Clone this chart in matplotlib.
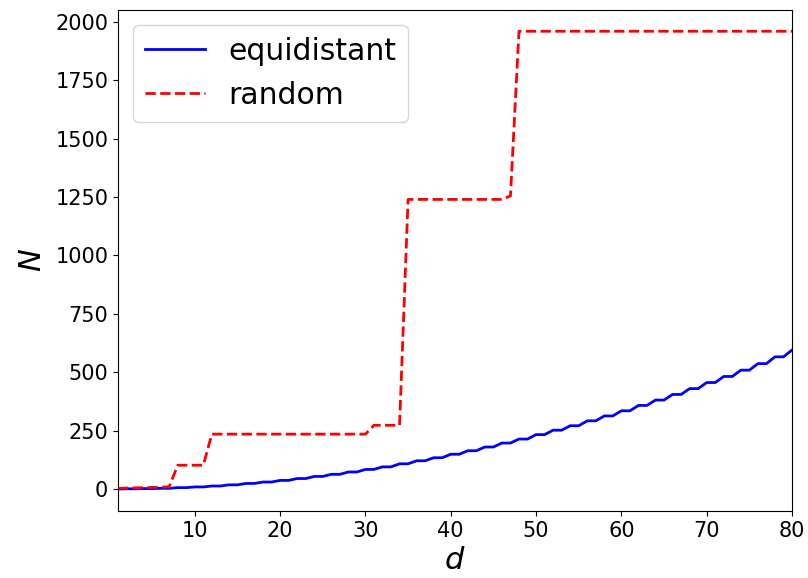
import matplotlib
matplotlib.use("Agg")
import matplotlib.pyplot as plt

d = list(range(1, 81))
equidistant = [0, 1, 1, 2, 2, 3, 3, 6, 6, 9, 9, 13, 13, 18, 18, 24, 24, 30, 30, 37,
               37, 45, 45, 54, 54, 63, 63, 73, 73, 84, 84, 95, 95, 108, 108, 121, 121, 134, 134, 149,
               149, 164, 164, 180, 180, 197, 197, 214, 214, 233, 233, 252, 252, 271, 271, 292, 292, 313, 313, 335,
               335, 358, 358, 381, 381, 405, 405, 430, 430, 456, 456, 482, 482, 509, 509, 537, 537, 566, 566, 595]
random_ = [3, 4, 5, 6, 7, 8, 10, 102, 102, 102, 102, 235, 235, 235, 235, 235, 235, 235, 235, 235,
           235, 235, 235, 235, 235, 235, 235, 235, 235, 235, 273, 273, 273, 273, 1240, 1240, 1240, 1240, 1240, 1240,
           1240, 1240, 1240, 1240, 1240, 1240, 1255, 1960, 1960, 1960, 1960, 1960, 1960, 1960, 1960, 1960, 1960, 1960, 1960, 1960,
           1960, 1960, 1960, 1960, 1960, 1960, 1960, 1960, 1960, 1960, 1960, 1960, 1960, 1960, 1960, 1960, 1960, 1960, 1960, 1960]

fig = plt.figure(figsize=(8.08, 5.78), dpi=100)
ax = fig.add_axes([118/808, 1 - 511/578, (792 - 118)/808, (511 - 10)/578])
ax.plot(d, equidistant, color="blue", linestyle="-", linewidth=2, label="equidistant")
ax.plot(d, random_, color="red", linestyle="--", linewidth=2, label="random")
ax.set_xlim(1, 80)
ax.set_ylim(-94, 2051)
ax.set_yticks([0, 250, 500, 750, 1000, 1250, 1500, 1750, 2000])
ax.set_xticks([10, 20, 30, 40, 50, 60, 70, 80])
ax.tick_params(labelsize=15)
ax.set_xlabel("$d$", fontsize=22)
ax.set_ylabel("$N$", fontsize=22, labelpad=6)
ax.legend(fontsize=21.5, loc="upper left")
fig.savefig("out.png", dpi=100)
